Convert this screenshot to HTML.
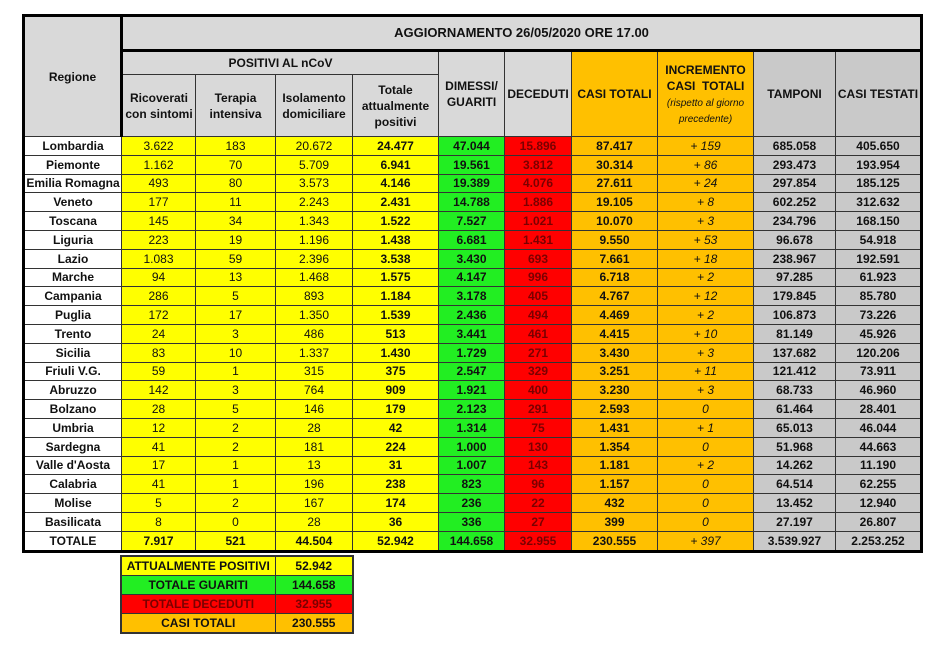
<!DOCTYPE html>
<html><head><meta charset="utf-8"><style>
body{margin:0;background:#fff;width:949px;height:650px;overflow:hidden;font-family:"Liberation Sans",sans-serif;}
table{border-collapse:collapse;table-layout:fixed;position:absolute;}
#t{left:22px;top:14px;width:898px;border:3px solid #000;}
td{border:1px solid #333;text-align:center;font-size:12px;padding:0;white-space:nowrap;overflow:hidden;color:#111;}
.h{background:#d9d9d9;font-weight:bold;font-size:12px;white-space:normal;line-height:16px}
.g2{background:#c9c9c9}
.r td{height:17.8px;line-height:16px}
.n{background:#fff;font-weight:bold}
.y{background:#ffff00}
.yb{background:#ffff00;font-weight:bold}
.gr{background:#22ee22;font-weight:bold}
.rd{background:#ff0000;color:#7a0000;font-weight:bold}
.o{background:#ffc000;font-weight:bold}
.oi{background:#ffc000;font-style:italic}
.gy{background:#c9c9c9;font-weight:bold}
#s{left:120px;top:555px;width:232px;border:2px solid #333;}
#s td{height:18px;font-weight:bold;line-height:16px}
</style></head><body>
<table id="t">
<colgroup><col style="width:98px"><col style="width:74px"><col style="width:80px"><col style="width:77px"><col style="width:86px"><col style="width:66px"><col style="width:67px"><col style="width:86px"><col style="width:96px"><col style="width:82px"><col style="width:86px"></colgroup>
<tr><td class="h" rowspan="3" style="border-right:3px solid #000;">Regione</td><td class="h" colspan="10" style="height:32px;font-size:13px;border-bottom:3px solid #000">AGGIORNAMENTO 26/05/2020 ORE 17.00</td></tr>
<tr><td class="h" colspan="4" style="height:22px">POSITIVI AL nCoV</td><td class="h" rowspan="2">DIMESSI/<br>GUARITI</td><td class="h" rowspan="2">DECEDUTI</td><td class="h" rowspan="2" style="background:#ffc000">CASI TOTALI</td><td class="h" rowspan="2" style="background:#ffc000">INCREMENTO<br>CASI&nbsp; TOTALI<br><i style="font-weight:normal;font-size:10px;line-height:13px">(rispetto al giorno precedente)</i></td><td class="h g2" rowspan="2">TAMPONI</td><td class="h g2" rowspan="2">CASI TESTATI</td></tr>
<tr><td class="h" style="height:61px">Ricoverati con sintomi</td><td class="h">Terapia intensiva</td><td class="h">Isolamento domiciliare</td><td class="h">Totale attualmente positivi</td></tr>
<tr class="r"><td class="n">Lombardia</td><td class="y">3.622</td><td class="y">183</td><td class="y">20.672</td><td class="yb">24.477</td><td class="gr">47.044</td><td class="rd">15.896</td><td class="o">87.417</td><td class="oi">+ 159</td><td class="gy">685.058</td><td class="gy">405.650</td></tr>
<tr class="r"><td class="n">Piemonte</td><td class="y">1.162</td><td class="y">70</td><td class="y">5.709</td><td class="yb">6.941</td><td class="gr">19.561</td><td class="rd">3.812</td><td class="o">30.314</td><td class="oi">+ 86</td><td class="gy">293.473</td><td class="gy">193.954</td></tr>
<tr class="r"><td class="n">Emilia Romagna</td><td class="y">493</td><td class="y">80</td><td class="y">3.573</td><td class="yb">4.146</td><td class="gr">19.389</td><td class="rd">4.076</td><td class="o">27.611</td><td class="oi">+ 24</td><td class="gy">297.854</td><td class="gy">185.125</td></tr>
<tr class="r"><td class="n">Veneto</td><td class="y">177</td><td class="y">11</td><td class="y">2.243</td><td class="yb">2.431</td><td class="gr">14.788</td><td class="rd">1.886</td><td class="o">19.105</td><td class="oi">+ 8</td><td class="gy">602.252</td><td class="gy">312.632</td></tr>
<tr class="r"><td class="n">Toscana</td><td class="y">145</td><td class="y">34</td><td class="y">1.343</td><td class="yb">1.522</td><td class="gr">7.527</td><td class="rd">1.021</td><td class="o">10.070</td><td class="oi">+ 3</td><td class="gy">234.796</td><td class="gy">168.150</td></tr>
<tr class="r"><td class="n">Liguria</td><td class="y">223</td><td class="y">19</td><td class="y">1.196</td><td class="yb">1.438</td><td class="gr">6.681</td><td class="rd">1.431</td><td class="o">9.550</td><td class="oi">+ 53</td><td class="gy">96.678</td><td class="gy">54.918</td></tr>
<tr class="r"><td class="n">Lazio</td><td class="y">1.083</td><td class="y">59</td><td class="y">2.396</td><td class="yb">3.538</td><td class="gr">3.430</td><td class="rd">693</td><td class="o">7.661</td><td class="oi">+ 18</td><td class="gy">238.967</td><td class="gy">192.591</td></tr>
<tr class="r"><td class="n">Marche</td><td class="y">94</td><td class="y">13</td><td class="y">1.468</td><td class="yb">1.575</td><td class="gr">4.147</td><td class="rd">996</td><td class="o">6.718</td><td class="oi">+ 2</td><td class="gy">97.285</td><td class="gy">61.923</td></tr>
<tr class="r"><td class="n">Campania</td><td class="y">286</td><td class="y">5</td><td class="y">893</td><td class="yb">1.184</td><td class="gr">3.178</td><td class="rd">405</td><td class="o">4.767</td><td class="oi">+ 12</td><td class="gy">179.845</td><td class="gy">85.780</td></tr>
<tr class="r"><td class="n">Puglia</td><td class="y">172</td><td class="y">17</td><td class="y">1.350</td><td class="yb">1.539</td><td class="gr">2.436</td><td class="rd">494</td><td class="o">4.469</td><td class="oi">+ 2</td><td class="gy">106.873</td><td class="gy">73.226</td></tr>
<tr class="r"><td class="n">Trento</td><td class="y">24</td><td class="y">3</td><td class="y">486</td><td class="yb">513</td><td class="gr">3.441</td><td class="rd">461</td><td class="o">4.415</td><td class="oi">+ 10</td><td class="gy">81.149</td><td class="gy">45.926</td></tr>
<tr class="r"><td class="n">Sicilia</td><td class="y">83</td><td class="y">10</td><td class="y">1.337</td><td class="yb">1.430</td><td class="gr">1.729</td><td class="rd">271</td><td class="o">3.430</td><td class="oi">+ 3</td><td class="gy">137.682</td><td class="gy">120.206</td></tr>
<tr class="r"><td class="n">Friuli V.G.</td><td class="y">59</td><td class="y">1</td><td class="y">315</td><td class="yb">375</td><td class="gr">2.547</td><td class="rd">329</td><td class="o">3.251</td><td class="oi">+ 11</td><td class="gy">121.412</td><td class="gy">73.911</td></tr>
<tr class="r"><td class="n">Abruzzo</td><td class="y">142</td><td class="y">3</td><td class="y">764</td><td class="yb">909</td><td class="gr">1.921</td><td class="rd">400</td><td class="o">3.230</td><td class="oi">+ 3</td><td class="gy">68.733</td><td class="gy">46.960</td></tr>
<tr class="r"><td class="n">Bolzano</td><td class="y">28</td><td class="y">5</td><td class="y">146</td><td class="yb">179</td><td class="gr">2.123</td><td class="rd">291</td><td class="o">2.593</td><td class="oi">0</td><td class="gy">61.464</td><td class="gy">28.401</td></tr>
<tr class="r"><td class="n">Umbria</td><td class="y">12</td><td class="y">2</td><td class="y">28</td><td class="yb">42</td><td class="gr">1.314</td><td class="rd">75</td><td class="o">1.431</td><td class="oi">+ 1</td><td class="gy">65.013</td><td class="gy">46.044</td></tr>
<tr class="r"><td class="n">Sardegna</td><td class="y">41</td><td class="y">2</td><td class="y">181</td><td class="yb">224</td><td class="gr">1.000</td><td class="rd">130</td><td class="o">1.354</td><td class="oi">0</td><td class="gy">51.968</td><td class="gy">44.663</td></tr>
<tr class="r"><td class="n">Valle d'Aosta</td><td class="y">17</td><td class="y">1</td><td class="y">13</td><td class="yb">31</td><td class="gr">1.007</td><td class="rd">143</td><td class="o">1.181</td><td class="oi">+ 2</td><td class="gy">14.262</td><td class="gy">11.190</td></tr>
<tr class="r"><td class="n">Calabria</td><td class="y">41</td><td class="y">1</td><td class="y">196</td><td class="yb">238</td><td class="gr">823</td><td class="rd">96</td><td class="o">1.157</td><td class="oi">0</td><td class="gy">64.514</td><td class="gy">62.255</td></tr>
<tr class="r"><td class="n">Molise</td><td class="y">5</td><td class="y">2</td><td class="y">167</td><td class="yb">174</td><td class="gr">236</td><td class="rd">22</td><td class="o">432</td><td class="oi">0</td><td class="gy">13.452</td><td class="gy">12.940</td></tr>
<tr class="r"><td class="n">Basilicata</td><td class="y">8</td><td class="y">0</td><td class="y">28</td><td class="yb">36</td><td class="gr">336</td><td class="rd">27</td><td class="o">399</td><td class="oi">0</td><td class="gy">27.197</td><td class="gy">26.807</td></tr>
<tr class="r"><td class="n">TOTALE</td><td class="yb">7.917</td><td class="yb">521</td><td class="yb">44.504</td><td class="yb">52.942</td><td class="gr">144.658</td><td class="rd">32.955</td><td class="o">230.555</td><td class="oi">+ 397</td><td class="gy">3.539.927</td><td class="gy">2.253.252</td></tr>
</table>
<table id="s">
<colgroup><col style="width:154px"><col style="width:78px"></colgroup>
<tr><td style="background:#ffff00">ATTUALMENTE POSITIVI</td><td style="background:#ffff00">52.942</td></tr>
<tr><td style="background:#22ee22">TOTALE GUARITI</td><td style="background:#22ee22">144.658</td></tr>
<tr><td style="background:#ff0000;color:#7a0000">TOTALE DECEDUTI</td><td style="background:#ff0000;color:#7a0000">32.955</td></tr>
<tr><td style="background:#ffc000">CASI TOTALI</td><td style="background:#ffc000">230.555</td></tr>
</table>
</body></html>
